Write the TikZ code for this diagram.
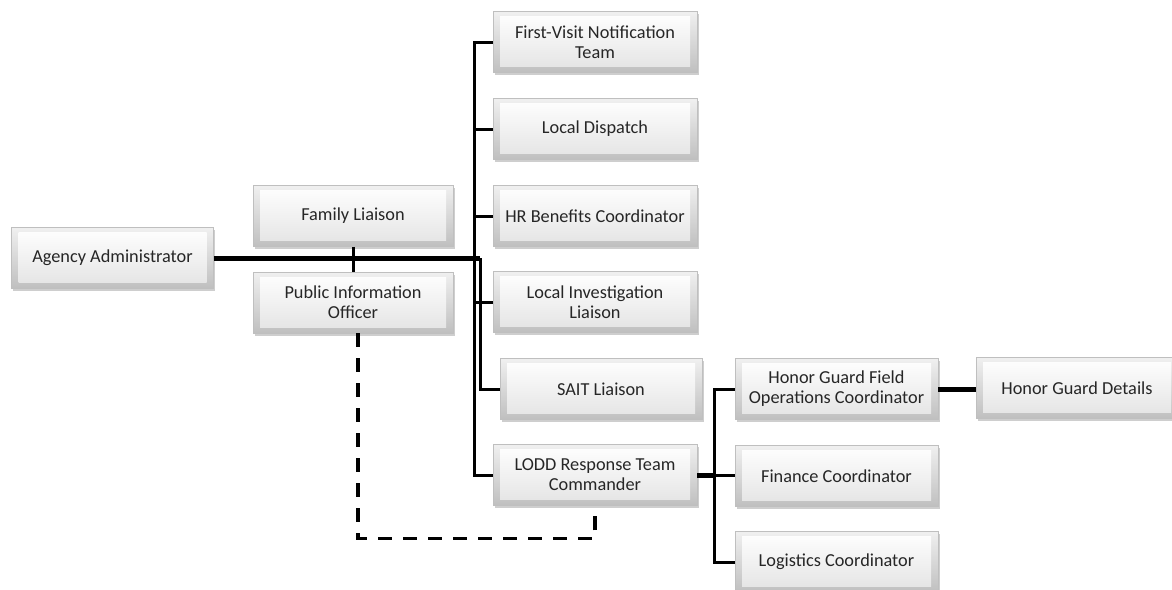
\documentclass[tikz,border=0pt]{standalone}
\usepackage{fontspec}
\setmainfont{Carlito}
\usetikzlibrary{shadows,calc}
\begin{document}
\begin{tikzpicture}[x=1pt,y=-1pt,
  box/.style={rectangle, minimum width=202pt, minimum height=61pt, inner sep=2pt,
    align=center, text=black!85, font=\fontsize{18.3}{20}\selectfont,
    top color=gray!12, bottom color=gray!50, draw=gray!50, line width=0.6pt,
    drop shadow={shadow xshift=1.5pt, shadow yshift=-2.5pt, fill=gray!55, opacity=0.7},
    path picture={\shade[top color=white, bottom color=gray!22]
      ([shift={(7pt,-5pt)}]path picture bounding box.north west) rectangle
      ([shift={(-7pt,6pt)}]path picture bounding box.south east);}},
  thickline/.style={line width=5pt, black},
  conn/.style={line width=3pt, black},
  dashline/.style={line width=3.5pt, black, dash pattern=on 14pt off 11pt}]
\useasboundingbox (0,0) rectangle (1172,589);

\node[box] (agency) at (112.5,258) {Agency Administrator};
\node[box, minimum width=200pt] (family) at (353,216) {Family Liaison};
\node[box, minimum width=200pt] (pio) at (353,302.5) {Public Information\\Officer};

\node[box, minimum width=204pt] (first) at (595,42) {First-Visit Notification\\Team};
\node[box, minimum width=204pt] (dispatch) at (595,129) {Local Dispatch};
\node[box, minimum width=204pt] (hr) at (595,216) {HR Benefits Coordinator};
\node[box, minimum width=204pt] (lil) at (595,302) {Local Investigation\\Liaison};
\node[box, minimum width=202pt] (sait) at (601,389) {SAIT Liaison};
\node[box, minimum width=204pt] (lodd) at (595,475) {LODD Response Team\\Commander};

\node[box, minimum width=203pt] (hgf) at (836.5,389) {Honor Guard Field\\Operations Coordinator};
\node[box, minimum width=203pt] (fin) at (836.5,476) {Finance Coordinator};
\node[box, minimum width=203pt] (log) at (836.5,562) {Logistics Coordinator};
\node[box, minimum width=202pt] (hgd) at (1077,388) {Honor Guard Details};

% left part
\coordinate (j1) at (480,258);
\draw[thickline] (agency.east) -- (j1);
\draw[conn] (j1) |- (sait.west);
\draw[conn] (family.south) -- (pio.north);

% trunk to the column
\draw[conn] (first.west) -- ++(-18,0) |- (lodd.west);
\draw[conn] (dispatch.west) -- ++(-18,0);
\draw[conn] (hr.west) -- ++(-18,0);
\draw[conn] (lil.west) -- ++(-18,0);

% LODD branch
\coordinate (j2) at (715,475);
\draw[thickline] (lodd.east) -- (j2);
\draw[conn] (hgf.west) -- ++(-20,0) |- (log.west);
\draw[conn] (j2) -- (fin.west |- j2);
\draw[thickline] (hgf.east) -- (hgd.west |- hgf.east);

% dashed link
\draw[dashline] ([xshift=5pt]pio.south) -- ++(0,205) -| (lodd.south);
\end{tikzpicture}
\end{document}
